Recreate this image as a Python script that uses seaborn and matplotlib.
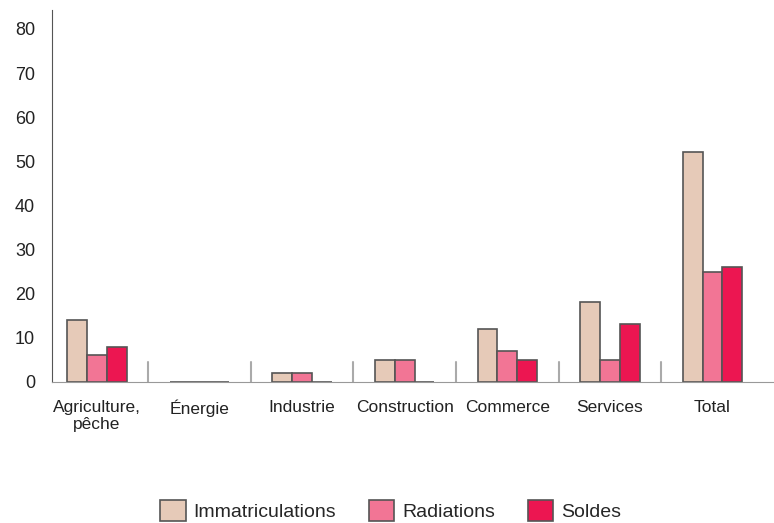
import matplotlib

matplotlib.use("Agg")
import matplotlib.pyplot as plt
import pandas as pd
import seaborn as sns

categories = ["Agriculture,\npêche", "Énergie", "Industrie", "Construction", "Commerce", "Services", "Total"]
immatriculations = [14, 0, 2, 5, 12, 18, 52]
radiations = [6, 0, 2, 5, 7, 5, 25]
soldes = [8, 0, 0, 0, 5, 13, 26]
series = ["Immatriculations", "Radiations", "Soldes"]
colors = ["#E6CAB8", "#F27595", "#EC1651"]
y_ticks = [0, 10, 20, 30, 40, 50, 60, 70, 80]


def main() -> None:
    df = pd.DataFrame({
        "categorie": categories * 3,
        "serie": [series[0]] * 7 + [series[1]] * 7 + [series[2]] * 7,
        "valeur": immatriculations + radiations + soldes,
    })

    sns.set_style("white")
    plt.rcParams["font.family"] = ["Liberation Sans", "DejaVu Sans"]

    fig = plt.figure(figsize=(7.74, 5.23), dpi=100)
    ax = fig.add_axes([0.067, 0.27, 0.933, 0.711])
    sns.barplot(data=df, x="categorie", y="valeur", hue="serie", order=categories,
                hue_order=series, palette=colors, width=0.58, edgecolor="#555555",
                linewidth=1.2, saturation=1, ax=ax, legend=True)

    # petits séparateurs entre les groupes
    for i in range(len(categories) - 1):
        ax.plot([i + 0.5, i + 0.5], [0, 4.5], color="#aaaaaa", lw=1.5, zorder=1)

    ax.set_xlim(-0.44, 6.6)
    ax.set_ylim(0, 84.3)
    ax.set_yticks(y_ticks)
    ax.set_xlabel("")
    ax.set_ylabel("")
    ax.tick_params(axis="both", length=0, colors="#222222")
    ax.tick_params(axis="y", labelsize=13, pad=12)
    ax.tick_params(axis="x", labelsize=12.5, pad=13)
    sns.despine(ax=ax, top=True, right=True)
    ax.spines["left"].set_color("#555555")
    ax.spines["bottom"].set_color("#999999")

    handles, labels = ax.get_legend_handles_labels()
    ax.get_legend().remove()
    fig.legend(handles, labels, loc="lower center", bbox_to_anchor=(0.505, -0.03), ncol=3,
               frameon=False, fontsize=14, handlelength=1.3, handleheight=1.3,
               columnspacing=1.7, handletextpad=0.4)

    fig.savefig("out.png", dpi=100)
    plt.close(fig)


if __name__ == "__main__":
    main()
